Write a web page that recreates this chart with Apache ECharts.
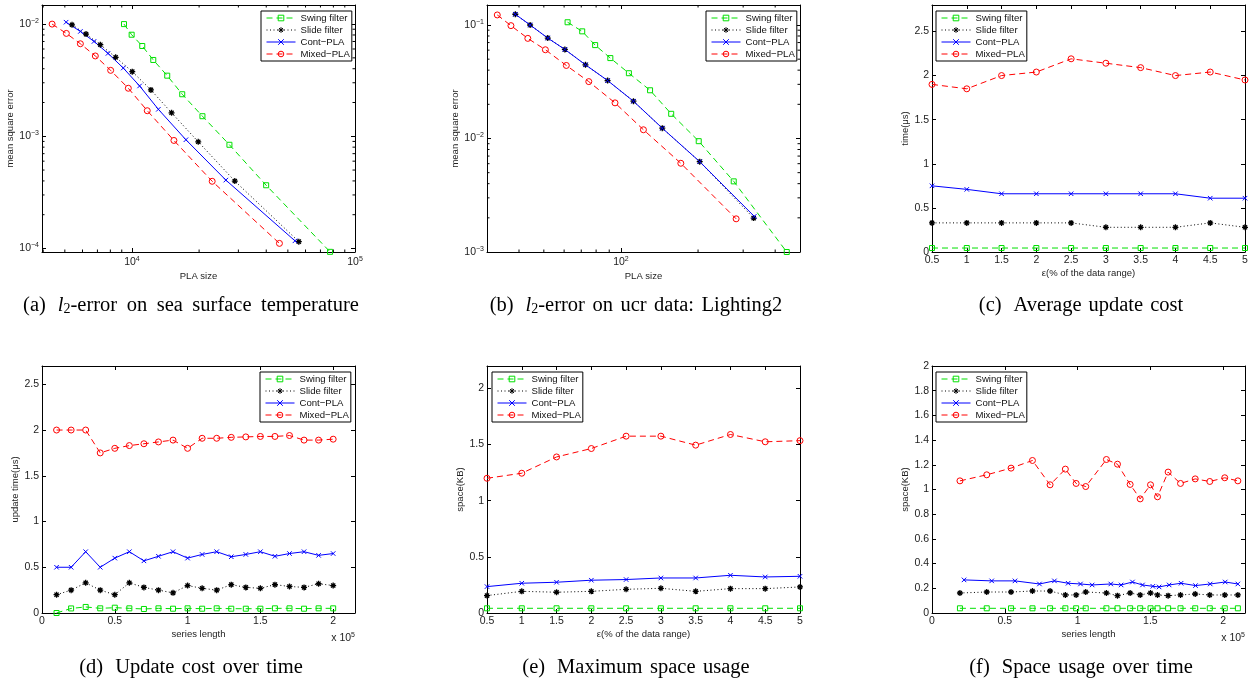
<!DOCTYPE html>
<html><head><meta charset="utf-8">
<script src="https://cdn.jsdelivr.net/npm/echarts@6/dist/echarts.min.js"></script>
<style>html,body{margin:0;padding:0;background:#fff}#c{width:1253px;height:684px}</style>
</head><body><div id="c"></div>
<script>
// ---------- names ----------
const seriesNames = ['Swing filter', 'Slide filter', 'Cont\u2212PLA', 'Mixed\u2212PLA'];

// ---------- (a) l2-error on sea surface temperature ----------
const aSwingX = [9210, 9966, 11120, 12460, 14390, 16800, 20700, 27350, 39960, 77300];
const aSwingY = [0.0100, 0.00804, 0.00638, 0.00479, 0.00347, 0.00237, 0.00151, 0.00084, 0.000366, 0.0000933];
const aSlideX = [5386, 6223, 7214, 8450, 10030, 12160, 15050, 19820, 28910, 55980];
const aSlideY = [0.00986, 0.00815, 0.00655, 0.00506, 0.00377, 0.00259, 0.00162, 0.000893, 0.000399, 0.000115];
const aContX = [5065, 5870, 6760, 7810, 9140, 10820, 13130, 17450, 26360, 53800];
const aContY = [0.0104, 0.0086, 0.00701, 0.00548, 0.00406, 0.00281, 0.00174, 0.000931, 0.000407, 0.000117];
const aMixedX = [4385, 5080, 5870, 6850, 8025, 9630, 11710, 15420, 22890, 45830];
const aMixedY = [0.0100, 0.00826, 0.00668, 0.0052, 0.00387, 0.00268, 0.00169, 0.000918, 0.000397, 0.000111];

// ---------- (b) l2-error on ucr data: Lighting2 ----------
const bSwingX = [61.9, 70.6, 79.3, 90.9, 107.4, 129.9, 157.1, 201.2, 275.6, 443.9];
const bSwingY = [0.1057, 0.0879, 0.0665, 0.0511, 0.0376, 0.0266, 0.0165, 0.00947, 0.00419, 0.001];
const bSlideX = [38.7, 44.2, 51.8, 60.4, 72.7, 88.7, 111.9, 145, 203, 329.7];
const bSlideY = [0.1243, 0.1, 0.0767, 0.0609, 0.0446, 0.0324, 0.0213, 0.01233, 0.00625, 0.00199];
const bContX = [38.7, 44.2, 51.8, 60.4, 72.7, 88.7, 111.9, 145, 203, 331.5];
const bContY = [0.1243, 0.1, 0.0767, 0.0609, 0.0446, 0.0324, 0.0213, 0.01233, 0.00625, 0.00206];
const bMixedX = [32.9, 37.2, 43.3, 50.7, 61.2, 74.9, 94.8, 122.4, 171.3, 281.6];
const bMixedY = [0.1226, 0.0987, 0.0762, 0.0605, 0.044, 0.0317, 0.0206, 0.01194, 0.00605, 0.00196];

// ---------- (c) Average update cost ----------
const epsX = [0.5, 1, 1.5, 2, 2.5, 3, 3.5, 4, 4.5, 5];
const cSwing = [0.045, 0.045, 0.045, 0.045, 0.045, 0.045, 0.045, 0.045, 0.045, 0.045];
const cSlide = [0.33, 0.33, 0.33, 0.33, 0.33, 0.28, 0.28, 0.28, 0.33, 0.28];
const cCont = [0.75, 0.71, 0.66, 0.66, 0.66, 0.66, 0.66, 0.66, 0.61, 0.61];
const cMixed = [1.9, 1.85, 2.0, 2.04, 2.19, 2.14, 2.09, 2.0, 2.04, 1.95];

// ---------- (d) Update cost over time ----------
const dX = [10000, 20000, 30000, 40000, 50000, 60000, 70000, 80000, 90000, 100000,
            110000, 120000, 130000, 140000, 150000, 160000, 170000, 180000, 190000, 200000];
const dSwing = [0, 0.05, 0.066, 0.051, 0.058, 0.051, 0.044, 0.051, 0.047, 0.051, 0.047, 0.051, 0.047, 0.047, 0.047, 0.051, 0.051, 0.047, 0.051, 0.051];
const dSlide = [0.2, 0.25, 0.33, 0.25, 0.2, 0.33, 0.28, 0.25, 0.22, 0.3, 0.27, 0.25, 0.31, 0.28, 0.27, 0.31, 0.29, 0.28, 0.32, 0.3];
const dCont = [0.5, 0.5, 0.67, 0.5, 0.6, 0.67, 0.57, 0.62, 0.67, 0.6, 0.64, 0.67, 0.615, 0.64, 0.67, 0.62, 0.65, 0.67, 0.63, 0.65];
const dMixed = [2.0, 2.0, 2.0, 1.75, 1.8, 1.83, 1.85, 1.87, 1.89, 1.8, 1.91, 1.91, 1.92, 1.925, 1.93, 1.93, 1.94, 1.89, 1.89, 1.9];

// ---------- (e) Maximum space usage ----------
const eSwing = [0.042, 0.042, 0.042, 0.042, 0.042, 0.042, 0.042, 0.042, 0.042, 0.042];
const eSlide = [0.155, 0.193, 0.185, 0.193, 0.211, 0.22, 0.193, 0.217, 0.217, 0.232];
const eCont = [0.235, 0.265, 0.274, 0.292, 0.298, 0.312, 0.312, 0.336, 0.321, 0.327];
const eMixed = [1.2, 1.245, 1.39, 1.465, 1.575, 1.575, 1.495, 1.59, 1.525, 1.535];

// ---------- (f) Space usage over time ----------
const fX = [19200, 37600, 54300, 69000, 81100, 91600, 99000, 105600, 119800, 127400,
            136100, 143000, 150100, 154900, 162200, 170700, 180800, 190800, 201100, 210100];
const fContX = [22000, 41000, 57000, 73800, 84100, 93500, 102000, 110000, 122800, 129900,
                137700, 144600, 151700, 156000, 162900, 171100, 181000, 191100, 201400, 210100];
const fSwing = [0.038, 0.038, 0.038, 0.038, 0.038, 0.038, 0.038, 0.038, 0.038, 0.038, 0.038, 0.038, 0.038, 0.038, 0.038, 0.038, 0.038, 0.038, 0.038, 0.038];
const fSlide = [0.162, 0.17, 0.17, 0.178, 0.178, 0.146, 0.146, 0.17, 0.162, 0.1405, 0.162, 0.146, 0.162, 0.146, 0.1405, 0.146, 0.154, 0.146, 0.146, 0.146];
const fCont = [0.268, 0.26, 0.26, 0.235, 0.26, 0.241, 0.235, 0.227, 0.235, 0.227, 0.251, 0.227, 0.216, 0.211, 0.227, 0.241, 0.222, 0.235, 0.251, 0.235];
const fMixed = [1.07, 1.119, 1.173, 1.235, 1.038, 1.165, 1.049, 1.024, 1.243, 1.205, 1.041, 0.924, 1.038, 0.941, 1.141, 1.049, 1.086, 1.065, 1.095, 1.07];

// ---------- text ----------
const captionWords = [
  ['(a)', '{i|l}{sub|2}-error', 'on', 'sea', 'surface', 'temperature'],
  ['(b)', '{i|l}{sub|2}-error', 'on', 'ucr', 'data:', 'Lighting2'],
  ['(c)', 'Average', 'update', 'cost'],
  ['(d)', 'Update', 'cost', 'over', 'time'],
  ['(e)', 'Maximum', 'space', 'usage'],
  ['(f)', 'Space', 'usage', 'over', 'time']
];
const captionGap = [9.5, 7.5, 7, 7.5, 7.5, 7.5];
const xNames = ['PLA size', 'PLA size', '\u03b5(% of the data range)', 'series length', '\u03b5(% of the data range)', 'series length'];
const yNames = ['mean square error', 'mean square error', 'time(\u03bcs)', 'update time(\u03bcs)', 'space(KB)', 'space(KB)'];

// ---------- layout / style ----------
const FONT = '"Liberation Sans", Arial, Helvetica, sans-serif';
const SERIF = '"Liberation Serif", "Times New Roman", serif';
const grids = [
  {left: 42, top: 5, width: 313, height: 247},
  {left: 487, top: 5, width: 313, height: 247},
  {left: 932, top: 5, width: 313, height: 247},
  {left: 42, top: 366, width: 313, height: 247},
  {left: 487, top: 366, width: 313, height: 247},
  {left: 932, top: 366, width: 313, height: 247}
];
const captionPos = [[191, 306], [636, 306], [1081, 306], [191, 668], [636, 668], [1081, 668]];
const legendPos = [[261, 11], [706, 11], [936, 11], [260, 372], [492, 372], [936, 372]];
const xNameGap = [19, 19, 16, 16, 16, 16];
const yNameGap = [25, 25, 21, 22, 20, 21];

const ASTER = 'path://M5,0L5,10M0,5L10,5M1.5,1.5L8.5,8.5M1.5,8.5L8.5,1.5';
const XMARK = 'path://M0,0L10,10M0,10L10,0';
const STY = {
  'Swing filter': {color: '#00e000', type: [6, 4], symbol: 'rect', size: 5, bw: 1},
  'Slide filter': {color: '#000000', type: [1, 2.5], symbol: ASTER, size: 6, bw: 1.3},
  'Cont\u2212PLA': {color: '#0000ff', type: 'solid', symbol: XMARK, size: 4.5, bw: 1},
  'Mixed\u2212PLA': {color: '#ff0000', type: [6, 4], symbol: 'circle', size: 6, bw: 1}
};

// axis scale specs
const axisSpec = [
  {x: {type: 'log', min: 3950, max: 100000}, y: {type: 'log', min: 0.0000930, max: 0.0148}},
  {x: {type: 'log', min: 30, max: 500}, y: {type: 'log', min: 0.001, max: 0.15}},
  {x: {type: 'value', min: 0.5, max: 5, interval: 0.5}, y: {type: 'value', min: 0, max: 2.8, interval: 0.5}},
  {x: {type: 'value', min: 0, max: 215000, interval: 50000, scale: 1e5}, y: {type: 'value', min: 0, max: 2.7, interval: 0.5}},
  {x: {type: 'value', min: 0.5, max: 5, interval: 0.5}, y: {type: 'value', min: 0, max: 2.2, interval: 0.5}},
  {x: {type: 'value', min: 0, max: 215000, interval: 50000, scale: 1e5}, y: {type: 'value', min: 0, max: 2, interval: 0.2}}
];

const supRich = {
  b: {fontSize: 10.5, fontFamily: FONT, color: '#222', lineHeight: 13},
  s: {fontSize: 7, fontFamily: FONT, color: '#222', lineHeight: 7, verticalAlign: 'top'}
};
function logFmt(v) {
  const e = Math.log10(v), r = Math.round(e);
  if (Math.abs(e - r) > 1e-6) return '';
  return '{b|10}{s|' + (r < 0 ? '\u2212' + (-r) : r) + '}';
}
function linFmt(spec) {
  return function (v) {
    const q = v / spec.interval;
    if (Math.abs(q - Math.round(q)) > 1e-6) return '';
    let val = spec.scale ? v / spec.scale : v;
    return String(Math.round(val * 1000) / 1000);
  };
}

function mkAxis(spec, gi, primary, isX, name, gap) {
  const ax = {
    type: spec.type, gridIndex: gi, min: spec.min, max: spec.max,
    position: isX ? (primary ? 'bottom' : 'top') : (primary ? 'left' : 'right'),
    axisLine: {show: true, onZero: false, lineStyle: {color: '#000', width: 1}},
    axisTick: {show: true, inside: true, length: 4, lineStyle: {color: '#000', width: 1}},
    splitLine: {show: false},
    minorTick: {show: false},
    axisLabel: {show: primary, fontSize: 10.5, color: '#222', fontFamily: FONT, margin: 3,
      hideOverlap: false, showMinLabel: true, showMaxLabel: true}
  };
  if (spec.type === 'log') {
    ax.logBase = 10;
    ax.axisLabel.formatter = logFmt;
    ax.axisLabel.rich = supRich;
    if (isX) ax.axisLabel.margin = 4;
  } else {
    ax.interval = spec.interval;
    ax.axisLabel.formatter = linFmt(spec);
  }
  if (primary) {
    ax.name = name;
    ax.nameLocation = 'middle';
    ax.nameGap = gap;
    ax.nameTextStyle = {fontSize: 9.5, color: '#222', fontFamily: FONT};
  }
  return ax;
}

const xAxes = [], yAxes = [];
axisSpec.forEach((s, gi) => {
  xAxes.push(mkAxis(s.x, gi, true, true, xNames[gi], xNameGap[gi]));
  xAxes.push(mkAxis(s.x, gi, false, true));
  yAxes.push(mkAxis(s.y, gi, true, false, yNames[gi], yNameGap[gi]));
  yAxes.push(mkAxis(s.y, gi, false, false));
});

function mkSeries(name, gi, xs, ys) {
  const s = STY[name];
  return {
    type: 'line', name: name, xAxisIndex: 2 * gi, yAxisIndex: 2 * gi,
    data: xs.map((x, i) => [x, ys[i]]),
    symbol: s.symbol, symbolSize: s.size, showAllSymbol: true, showSymbol: true,
    lineStyle: {color: s.color, width: 1, type: s.type},
    itemStyle: {color: 'rgba(0,0,0,0)', borderColor: s.color, borderWidth: s.bw},
    emphasis: {disabled: true}, clip: false, animation: false, z: 3
  };
}

// minor ticks for log axes, positions from the axis scale via api.coord
function minorVals(min, max) {
  const out = [];
  for (let k = Math.floor(Math.log10(min)); k <= Math.ceil(Math.log10(max)); k++) {
    for (let m = 2; m <= 9; m++) {
      const v = m * Math.pow(10, k);
      if (v > min * 1.0001 && v < max * 0.9999) out.push(v);
    }
  }
  return out;
}
function minorSeries(gi) {
  const s = axisSpec[gi];
  const L = 2.5;
  const xs = minorVals(s.x.min, s.x.max).map(v => [v, s.y.min, 0]);
  const ys = minorVals(s.y.min, s.y.max).map(v => [s.x.min, v, 1]);
  return {
    type: 'custom', xAxisIndex: 2 * gi, yAxisIndex: 2 * gi, silent: true, animation: false, clip: false, z: 4,
    data: xs.concat(ys),
    renderItem: function (params, api) {
      const dir = api.value(2);
      const st = {stroke: '#000', lineWidth: 1};
      if (dir === 0) {
        const v = api.value(0);
        const p1 = api.coord([v, s.y.min]), p2 = api.coord([v, s.y.max]);
        return {type: 'group', children: [
          {type: 'line', shape: {x1: p1[0], y1: p1[1], x2: p1[0], y2: p1[1] - L}, style: st},
          {type: 'line', shape: {x1: p2[0], y1: p2[1], x2: p2[0], y2: p2[1] + L}, style: st}
        ]};
      } else {
        const v = api.value(1);
        const p1 = api.coord([s.x.min, v]), p2 = api.coord([s.x.max, v]);
        return {type: 'group', children: [
          {type: 'line', shape: {x1: p1[0], y1: p1[1], x2: p1[0] + L, y2: p1[1]}, style: st},
          {type: 'line', shape: {x1: p2[0], y1: p2[1], x2: p2[0] - L, y2: p2[1]}, style: st}
        ]};
      }
    }
  };
}

const series = [
  mkSeries(seriesNames[0], 0, aSwingX, aSwingY),
  mkSeries(seriesNames[1], 0, aSlideX, aSlideY),
  mkSeries(seriesNames[2], 0, aContX, aContY),
  mkSeries(seriesNames[3], 0, aMixedX, aMixedY),
  mkSeries(seriesNames[0], 1, bSwingX, bSwingY),
  mkSeries(seriesNames[1], 1, bSlideX, bSlideY),
  mkSeries(seriesNames[2], 1, bContX, bContY),
  mkSeries(seriesNames[3], 1, bMixedX, bMixedY),
  mkSeries(seriesNames[0], 2, epsX, cSwing),
  mkSeries(seriesNames[1], 2, epsX, cSlide),
  mkSeries(seriesNames[2], 2, epsX, cCont),
  mkSeries(seriesNames[3], 2, epsX, cMixed),
  mkSeries(seriesNames[0], 3, dX, dSwing),
  mkSeries(seriesNames[1], 3, dX, dSlide),
  mkSeries(seriesNames[2], 3, dX, dCont),
  mkSeries(seriesNames[3], 3, dX, dMixed),
  mkSeries(seriesNames[0], 4, epsX, eSwing),
  mkSeries(seriesNames[1], 4, epsX, eSlide),
  mkSeries(seriesNames[2], 4, epsX, eCont),
  mkSeries(seriesNames[3], 4, epsX, eMixed),
  mkSeries(seriesNames[0], 5, fX, fSwing),
  mkSeries(seriesNames[1], 5, fX, fSlide),
  mkSeries(seriesNames[2], 5, fContX, fCont),
  mkSeries(seriesNames[3], 5, fX, fMixed),
  minorSeries(0),
  minorSeries(1)
];

const legends = legendPos.map(p => ({
  orient: 'vertical', left: p[0], top: p[1], data: seriesNames,
  backgroundColor: '#fff', borderColor: '#000', borderWidth: 1, borderRadius: 0,
  padding: [2, 2, 2, 5], itemGap: 2, itemWidth: 29, itemHeight: 7, itemTextGap: 3,
  selectedMode: false, z: 10,
  lineStyle: {width: 1},
  itemStyle: {borderWidth: 1},
  textStyle: {fontSize: 9.6, fontFamily: FONT, color: '#111', lineHeight: 10}
}));

const graphics = captionWords.map((w, i) => ({
  type: 'text', x: captionPos[i][0], y: captionPos[i][1], silent: true,
  style: {
    text: w[0] + '{g0|\u00a0}' + w.slice(1).join('{g|\u00a0}'),
    rich: {
      i: {fontStyle: 'italic', fontSize: 20.5, fontFamily: SERIF, color: '#000'},
      sub: {fontSize: 14, fontFamily: SERIF, color: '#000', lineHeight: 14, verticalAlign: 'bottom'},
      g0: {width: 12, fontSize: 20.5, fontFamily: SERIF},
      g: {width: captionGap[i], fontSize: 20.5, fontFamily: SERIF}
    },
    fontSize: 20.5, fontFamily: SERIF, fill: '#000',
    align: 'center', verticalAlign: 'middle'
  }
}));
[3, 5].forEach(gi => {
  const g = grids[gi];
  graphics.push({
    type: 'text', x: g.left + g.width, y: g.top + g.height + 25, silent: true,
    style: {text: '{b|x 10}{s|5}', rich: supRich, align: 'right', verticalAlign: 'middle', fill: '#222'}
  });
});

const chart = echarts.init(document.getElementById('c'), null, {renderer: 'canvas'});
chart.setOption({
  backgroundColor: '#fff',
  animation: false,
  textStyle: {fontFamily: FONT},
  grid: grids.map(g => Object.assign({containLabel: false, show: false}, g)),
  xAxis: xAxes,
  yAxis: yAxes,
  legend: legends,
  series: series,
  graphic: graphics
});
</script>
</body></html>
